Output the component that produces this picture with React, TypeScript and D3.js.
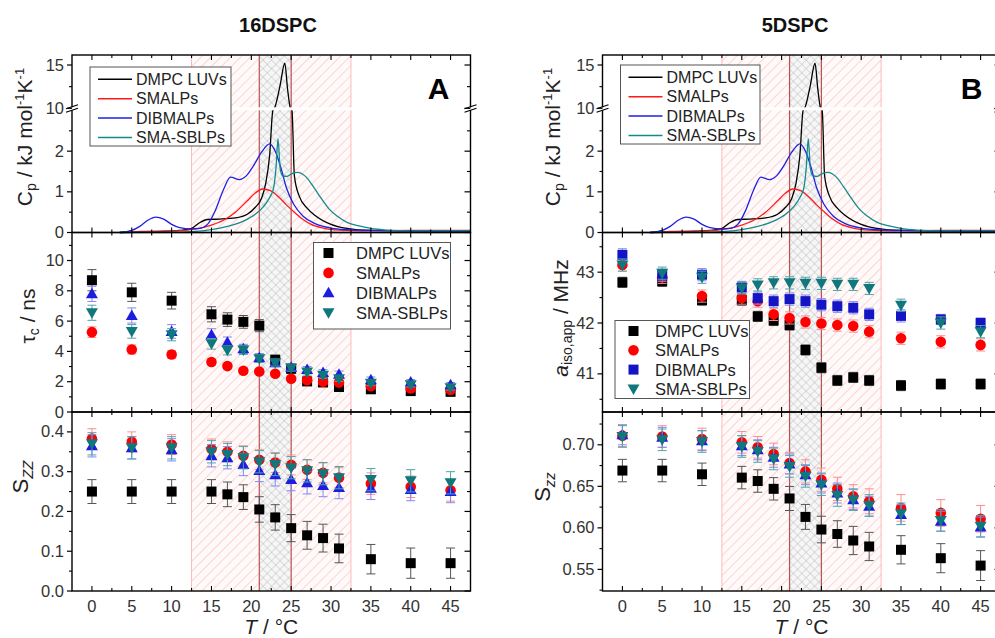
import React from "react";
import * as d3 from "d3";

const FONT = "'Liberation Sans', Arial, sans-serif";

const temps = [0, 5, 10, 15, 17, 19, 21, 23, 25, 27, 29, 31, 35, 40, 45];
const seriesNames = ["DMPC LUVs", "SMALPs", "DIBMALPs", "SMA-SBLPs"];
const colors = ["#000000", "#ff0000", "#1d1de0", "#10777c"];
const errColors = ["#555555", "#ff8c8c", "#8585f5", "#4fa6a8"];
const lineColors = ["#000000", "#ff1a1a", "#1f1fe6", "#128a8c"];

// DSC traces, [T, Cp]
const dscDMPC: [number, number][] = [
  [3.5, 0], [8, 0.02], [11, 0.05], [12.5, 0.1], [13.5, 0.24], [14.5, 0.32], [16, 0.33], [18, 0.36],
  [19.5, 0.45], [20.5, 0.62], [21.3, 0.85], [21.8, 1.2], [22.3, 1.9], [22.7, 3.0], [22.9, 10],
  [23.6, 12.6], [24.2, 15.2], [24.55, 12.2], [24.9, 10], [25.1, 3.0], [25.4, 1.4], [26, 0.9],
  [27, 0.6], [28, 0.42], [30, 0.2], [32, 0.1], [35, 0.05], [40, 0.04], [47.5, 0.03],
];
const dscSMALP: [number, number][] = [
  [3.5, 0], [6, 0.03], [10, 0.04], [12, 0.06], [13.5, 0.1], [15, 0.18], [16.5, 0.3], [18, 0.5],
  [19.5, 0.78], [20.5, 0.97], [21.4, 1.07], [22.4, 1.03], [23.4, 0.88], [24.4, 0.68], [25.4, 0.5],
  [26.4, 0.33], [27.5, 0.2], [29, 0.11], [31, 0.06], [34, 0.04], [40, 0.05], [47.5, 0.05],
];
const dscDIBMALP: [number, number][] = [
  [3.5, 0], [5, 0.05], [6, 0.15], [7, 0.3], [8, 0.38], [9, 0.33], [10, 0.2], [11, 0.12],
  [12.5, 0.09], [13.5, 0.1], [14.5, 0.2], [15.5, 0.55], [16.5, 1.05], [17.4, 1.36], [18.5, 1.3],
  [19.3, 1.38], [20.3, 1.65], [21.3, 1.98], [22.3, 2.18], [23, 2.0], [23.7, 1.6], [24.4, 1.1],
  [25.3, 0.7], [26.5, 0.4], [28, 0.22], [30, 0.11], [32, 0.07], [35, 0.05], [40, 0.04], [47.5, 0.04],
];
const dscSBLP: [number, number][] = [
  [3.5, 0], [10, 0.01], [13, 0.03], [15, 0.07], [17, 0.15], [19, 0.28], [20.5, 0.45], [21.5, 0.63],
  [22.3, 0.86], [22.8, 1.1], [23.1, 1.6], [23.35, 2.3], [23.6, 1.6], [23.9, 1.4], [24.5, 1.38],
  [25.1, 1.45], [25.8, 1.48], [26.8, 1.38], [27.8, 1.12], [28.8, 0.83], [29.8, 0.57], [30.8, 0.4],
  [32, 0.25], [33.5, 0.16], [35, 0.1], [37, 0.06], [40, 0.04], [47.5, 0.04],
];
const dscSeries = [dscDMPC, dscSMALP, dscDIBMALP, dscSBLP];

// 16DSPC: rotational correlation time / ns
const tauDMPC = [8.7, 7.9, 7.35, 6.45, 6.1, 5.95, 5.7, 3.45, 2.85, 2.02, 1.95, 1.65, 1.5, 1.38, 1.33];
const tauSMALP = [5.27, 4.13, 3.8, 3.3, 3.03, 2.72, 2.67, 2.53, 2.2, 2.1, 2.0, 1.95, 1.7, 1.55, 1.45];
const tauDIBMALP = [7.8, 6.37, 5.32, 5.1, 4.6, 4.17, 3.58, 3.25, 2.96, 2.8, 2.6, 2.5, 2.13, 1.98, 1.8];
const tauSBLP = [6.55, 5.32, 5.1, 4.5, 4.07, 4.1, 3.52, 3.25, 2.9, 2.64, 2.42, 2.2, 1.9, 1.8, 1.6];
const tauErr = [
  [0.7, 0.6, 0.55, 0.5, 0.45, 0.42, 0.4, 0.3, 0.25, 0.2, 0.2, 0.18, 0.15, 0.15, 0.15],
  [0.35, 0.3, 0.25, 0.2, 0.18, 0.17, 0.15, 0.15, 0.15, 0.15, 0.15, 0.13, 0.12, 0.12, 0.12],
  [0.5, 0.5, 0.45, 0.4, 0.35, 0.3, 0.28, 0.25, 0.23, 0.2, 0.2, 0.2, 0.18, 0.16, 0.15],
  [0.5, 0.45, 0.4, 0.35, 0.3, 0.3, 0.25, 0.22, 0.2, 0.2, 0.2, 0.18, 0.16, 0.15, 0.15],
];

// 16DSPC: order parameter
const szzA_DMPC = [0.25, 0.25, 0.25, 0.25, 0.243, 0.236, 0.205, 0.185, 0.158, 0.14, 0.133, 0.107, 0.08, 0.07, 0.07];
const szzA_SMALP = [0.383, 0.375, 0.368, 0.357, 0.35, 0.34, 0.33, 0.323, 0.317, 0.305, 0.297, 0.285, 0.27, 0.262, 0.253];
const szzA_DIBMALP = [0.365, 0.36, 0.355, 0.34, 0.335, 0.318, 0.303, 0.292, 0.28, 0.272, 0.265, 0.26, 0.258, 0.255, 0.25];
const szzA_SBLP = [0.37, 0.36, 0.36, 0.35, 0.343, 0.335, 0.325, 0.318, 0.31, 0.302, 0.295, 0.285, 0.28, 0.277, 0.272];
const szzAErr = [
  [0.03, 0.03, 0.03, 0.03, 0.031, 0.031, 0.032, 0.032, 0.034, 0.035, 0.035, 0.036, 0.037, 0.038, 0.038],
  [0.025, 0.025, 0.025, 0.025, 0.025, 0.025, 0.025, 0.025, 0.025, 0.025, 0.025, 0.025, 0.027, 0.027, 0.027],
  [0.028, 0.028, 0.028, 0.028, 0.028, 0.028, 0.028, 0.028, 0.028, 0.028, 0.028, 0.028, 0.028, 0.028, 0.028],
  [0.028, 0.028, 0.028, 0.028, 0.028, 0.028, 0.028, 0.028, 0.028, 0.028, 0.028, 0.028, 0.028, 0.028, 0.028],
];

// 5DSPC: apparent isotropic hyperfine coupling / MHz
const aisoDMPC = [42.8, 42.82, 42.45, 42.45, 42.13, 42.05, 41.96, 41.47, 41.12, 40.87, 40.93, 40.87, 40.77, 40.8, 40.8];
const aisoSMALP = [43.14, 42.9, 42.53, 42.49, 42.43, 42.17, 42.1, 42.02, 41.99, 41.96, 41.94, 41.83, 41.7, 41.63, 41.57];
const aisoDIBMALP = [43.34, 42.94, 42.95, 42.7, 42.49, 42.43, 42.47, 42.43, 42.36, 42.33, 42.3, 42.17, 42.14, 42.07, 42.0];
const aisoSBLP = [43.14, 42.98, 42.9, 42.69, 42.75, 42.79, 42.79, 42.78, 42.78, 42.76, 42.76, 42.68, 42.35, 42.0, 41.83];
const aisoErr = [
  [0.1, 0.1, 0.1, 0.1, 0.1, 0.1, 0.1, 0.1, 0.1, 0.1, 0.1, 0.1, 0.1, 0.1, 0.1],
  [0.12, 0.12, 0.12, 0.12, 0.12, 0.12, 0.12, 0.12, 0.12, 0.12, 0.12, 0.12, 0.12, 0.12, 0.12],
  [0.12, 0.12, 0.12, 0.12, 0.12, 0.12, 0.12, 0.12, 0.12, 0.12, 0.12, 0.12, 0.12, 0.1, 0.1],
  [0.12, 0.12, 0.12, 0.12, 0.12, 0.12, 0.12, 0.12, 0.12, 0.12, 0.12, 0.12, 0.12, 0.12, 0.12],
];

// 5DSPC: order parameter
const szzB_DMPC = [0.669, 0.669, 0.6645, 0.6605, 0.6564, 0.647, 0.6354, 0.6132, 0.598, 0.5926, 0.5848, 0.5776, 0.5736, 0.5635, 0.5546];
const szzB_SMALP = [0.711, 0.71, 0.707, 0.703, 0.697, 0.689, 0.678, 0.668, 0.658, 0.647, 0.638, 0.632, 0.624, 0.618, 0.611];
const szzB_DIBMALP = [0.712, 0.709, 0.705, 0.699, 0.694, 0.685, 0.677, 0.664, 0.654, 0.642, 0.634, 0.626, 0.616, 0.608, 0.601];
const szzB_SBLP = [0.71, 0.706, 0.704, 0.698, 0.692, 0.683, 0.674, 0.662, 0.652, 0.639, 0.634, 0.627, 0.617, 0.609, 0.602];
const szzBErr = [
  [0.0135, 0.0135, 0.0135, 0.0135, 0.0135, 0.0135, 0.0145, 0.015, 0.016, 0.016, 0.017, 0.017, 0.017, 0.0175, 0.018],
  [0.013, 0.013, 0.013, 0.013, 0.013, 0.013, 0.013, 0.014, 0.014, 0.014, 0.014, 0.015, 0.016, 0.016, 0.016],
  [0.012, 0.012, 0.012, 0.012, 0.012, 0.012, 0.012, 0.012, 0.012, 0.012, 0.012, 0.012, 0.012, 0.012, 0.012],
  [0.013, 0.013, 0.013, 0.013, 0.013, 0.013, 0.013, 0.013, 0.013, 0.013, 0.013, 0.013, 0.013, 0.013, 0.013],
];

const xTicks = d3.range(0, 45.01, 2.5);
const xTickLabels = [0, 5, 10, 15, 20, 25, 30, 35, 40, 45];

// panel frame rows
const TOP = [55, 232.5];
const MID = [232.5, 412];
const BOT = [412, 591];

type MarkerType = "square" | "circle" | "up" | "down";

const Marker = ({ type, x, y, fill }: { type: MarkerType; x: number; y: number; fill: string }) => {
  if (type === "square") return <rect x={x - 5} y={y - 5} width={10} height={10} fill={fill} />;
  if (type === "circle") return <circle cx={x} cy={y} r={5.3} fill={fill} />;
  if (type === "up") return <path d={`M${x},${y - 6}L${x + 6},${y + 4.5}L${x - 6},${y + 4.5}Z`} fill={fill} />;
  return <path d={`M${x},${y + 6}L${x + 6},${y - 4.5}L${x - 6},${y - 4.5}Z`} fill={fill} />;
};

const Scatter = ({ x, y, values, errs, markers, fills }: any) => (
  <g>
    {values.map((vals: number[], si: number) => (
      <g key={si}>
        {vals.map((v, i) => {
          const cx = x(temps[i]);
          const e = errs[si][i];
          return (
            <g key={i} stroke={errColors[si]} strokeWidth={1}>
              <line x1={cx} x2={cx} y1={y(v - e)} y2={y(v + e)} />
              <line x1={cx - 4.5} x2={cx + 4.5} y1={y(v - e)} y2={y(v - e)} />
              <line x1={cx - 4.5} x2={cx + 4.5} y1={y(v + e)} y2={y(v + e)} />
            </g>
          );
        })}
        {vals.map((v, i) => (
          <Marker key={i} type={markers[si]} x={x(temps[i])} y={y(v)} fill={fills[si]} />
        ))}
      </g>
    ))}
  </g>
);

const YAxis = ({ x0, x1, y, majors, minors, fmt }: any) => (
  <g>
    {majors.map((v: number) => (
      <g key={"M" + v}>
        <line x1={x0 - 5} x2={x0} y1={y(v)} y2={y(v)} stroke="#000" strokeWidth={1.2} />
        <line x1={x1 - 6} x2={x1} y1={y(v)} y2={y(v)} stroke="#000" strokeWidth={1.2} />
        <text x={x0 - 8} y={y(v) + 5.5} textAnchor="end" fontSize={16.5} fill="#333" fontFamily={FONT}>
          {fmt(v)}
        </text>
      </g>
    ))}
    {minors.map((v: number) => (
      <g key={"m" + v}>
        <line x1={x0 - 3} x2={x0} y1={y(v)} y2={y(v)} stroke="#000" strokeWidth={1.1} />
        <line x1={x1 - 3.5} x2={x1} y1={y(v)} y2={y(v)} stroke="#000" strokeWidth={1.1} />
      </g>
    ))}
  </g>
);

const XTicks = ({ x, rows }: any) => (
  <g stroke="#000" strokeWidth={1.1}>
    {rows.map(([y0, y1]: number[], r: number) =>
      xTicks.map((t) => {
        const len = t % 5 === 0 ? 5 : 3;
        return (
          <g key={r + "-" + t}>
            <line x1={x(t)} x2={x(t)} y1={y1} y2={y1 - len} />
            <line x1={x(t)} x2={x(t)} y1={y0} y2={y0 + len} />
          </g>
        );
      })
    )}
  </g>
);

const Column = ({ cfg }: any) => {
  const { id, x0, x1, title, panelLabel, mid, bot, topLegend, midLegend, labelX } = cfg;
  const x = d3.scaleLinear().domain([-2.5, 47.5]).range([x0, x1]);
  const lower = d3.scaleLinear().domain([0, 3]).range([232.5, 110.5]);
  const upper = d3.scaleLinear().domain([10, 15]).range([108.3, 65]);
  const yCp = (v: number) => (v <= 3 ? lower(v) : v >= 10 ? upper(v) : lower(3) + ((v - 3) / 7) * (upper(10) - lower(3)));
  const line = d3
    .line<[number, number]>()
    .x((d) => x(d[0]))
    .y((d) => yCp(d[1]))
    .curve(d3.curveMonotoneX);
  const yMid = d3.scaleLinear().domain(mid.domain).range([MID[1], MID[0]]);
  const yBot = d3.scaleLinear().domain(bot.domain).range([BOT[1], BOT[0]]);
  const clipId = "clip" + id;
  const cx = (x0 + x1) / 2;
  return (
    <g>
      <defs>
        <clipPath id={clipId}>
          <rect x={x0} y={TOP[0]} width={x1 - x0} height={BOT[1] - TOP[0]} />
        </clipPath>
      </defs>
      {/* transition regions */}
      <g>
        <rect x={x(12.5)} y={TOP[0]} width={x(21) - x(12.5)} height={BOT[1] - TOP[0]} fill="url(#redHatch)" />
        <rect x={x(25)} y={TOP[0]} width={x(32.5) - x(25)} height={BOT[1] - TOP[0]} fill="url(#redHatch)" />
        <rect x={x(21)} y={TOP[0]} width={x(25) - x(21)} height={BOT[1] - TOP[0]} fill="url(#grayHatch)" />
        {[12.5, 32.5].map((t) => (
          <line key={t} x1={x(t)} x2={x(t)} y1={TOP[0]} y2={BOT[1]} stroke="#ffb8b8" strokeWidth={1} />
        ))}
        {[21, 25].map((t) => (
          <line key={t} x1={x(t)} x2={x(t)} y1={TOP[0]} y2={BOT[1]} stroke="#b95252" strokeWidth={1.2} />
        ))}
      </g>
      {/* DSC curves */}
      <g clipPath={`url(#${clipId})`}>
        {dscSeries.map((s, i) => (
          <path key={i} d={line(s) || ""} fill="none" stroke={lineColors[i]} strokeWidth={1.3} />
        ))}
      </g>
      {/* axis break gap */}
      <rect x={x0 + 1} y={107.3} width={x1 - x0 - 2} height={3} fill="#fff" />
      {/* data */}
      <g clipPath={`url(#${clipId})`}>
        <Scatter x={x} y={yMid} values={mid.values} errs={mid.errs} markers={mid.markers} fills={mid.fills} />
        <Scatter x={x} y={yBot} values={bot.values} errs={bot.errs} markers={bot.markers} fills={bot.fills} />
      </g>
      {/* frames */}
      <g fill="none" stroke="#000" strokeWidth={1.4}>
        <rect x={x0} y={TOP[0]} width={x1 - x0} height={TOP[1] - TOP[0]} />
        <rect x={x0} y={MID[0]} width={x1 - x0} height={MID[1] - MID[0]} />
        <rect x={x0} y={BOT[0]} width={x1 - x0} height={BOT[1] - BOT[0]} />
      </g>
      <XTicks x={x} rows={[TOP, MID, BOT]} />
      {/* y axis break marks */}
      {[x0, x1].map((ax) => (
        <g key={ax}>
          <rect x={ax - 6} y={107.3} width={12} height={3} fill="#fff" />
          <line x1={ax - 6} y1={108.8} x2={ax + 6} y2={104.8} stroke="#000" strokeWidth={1.1} />
          <line x1={ax - 6} y1={112.3} x2={ax + 6} y2={108.3} stroke="#000" strokeWidth={1.1} />
        </g>
      ))}
      <YAxis x0={x0} x1={x1} y={yCp} majors={[0, 1, 2, 10, 15]} minors={[0.5, 1.5, 2.5, 12.5]} fmt={(v: number) => String(v)} />
      <YAxis x0={x0} x1={x1} y={yMid} majors={mid.majors} minors={mid.minors} fmt={mid.fmt} />
      <YAxis x0={x0} x1={x1} y={yBot} majors={bot.majors} minors={bot.minors} fmt={bot.fmt} />
      {/* x tick labels */}
      {xTickLabels.map((t) => (
        <text key={t} x={x(t)} y={612} textAnchor="middle" fontSize={16.5} fill="#333" fontFamily={FONT}>
          {t}
        </text>
      ))}
      <text x={cx} y={634} textAnchor="middle" fontSize={21} fill="#222" fontFamily={FONT}>
        <tspan fontStyle="italic">T</tspan> / °C
      </text>
      {/* titles */}
      <text x={title.x} y={32} textAnchor="middle" fontSize={20} fontWeight="bold" fill="#111" fontFamily={FONT}>
        {title.text}
      </text>
      <text x={panelLabel.x} y={99} textAnchor="middle" fontSize={30} fontWeight="bold" fill="#000" fontFamily={FONT}>
        {panelLabel.text}
      </text>
      {/* y labels */}
      <text transform={`translate(${labelX.top},137) rotate(-90)`} textAnchor="middle" fontSize={21} fill="#222" fontFamily={FONT}>
        C<tspan fontSize={14} dy={4}>p</tspan>
        <tspan dy={-4}> / kJ mol</tspan>
        <tspan fontSize={13} dy={-8}>-1</tspan>
        <tspan dy={8}>K</tspan>
        <tspan fontSize={13} dy={-8}>-1</tspan>
      </text>
      <text transform={`translate(${labelX.mid},${mid.labelY}) rotate(-90)`} textAnchor="middle" fontSize={21} fill="#222" fontFamily={FONT}>
        {mid.label}
      </text>
      <text transform={`translate(${labelX.bot},${bot.labelY}) rotate(-90)`} textAnchor="middle" fontSize={22} fill="#222" fontFamily={FONT}>
        S<tspan fontSize={15} dy={5} fontStyle="italic">{bot.sub}</tspan>
      </text>
      {/* top legend */}
      <g>
        <rect x={topLegend.x} y={topLegend.y} width={topLegend.w} height={79} fill="#fff" stroke="#555" strokeWidth={1} />
        {seriesNames.map((n, i) => (
          <g key={n}>
            <line x1={topLegend.x + 8} x2={topLegend.x + 42} y1={topLegend.y + 12.3 + i * 19.4} y2={topLegend.y + 12.3 + i * 19.4} stroke={lineColors[i]} strokeWidth={1.5} />
            <text x={topLegend.x + 46} y={topLegend.y + 18 + i * 19.4} fontSize={16} fill="#222" fontFamily={FONT}>
              {n}
            </text>
          </g>
        ))}
      </g>
      {/* middle legend */}
      <g>
        <rect x={midLegend.x} y={midLegend.y} width={midLegend.w} height={midLegend.h} fill="#fff" stroke="#555" strokeWidth={1} />
        {seriesNames.map((n, i) => (
          <g key={n}>
            <Marker type={mid.markers[i]} x={midLegend.x + midLegend.mx} y={midLegend.y + 10.5 + i * midLegend.dy} fill={mid.fills[i]} />
            <text x={midLegend.x + midLegend.tx} y={midLegend.y + 16.5 + i * midLegend.dy} fontSize={16.5} fill="#222" fontFamily={FONT}>
              {n}
            </text>
          </g>
        ))}
      </g>
    </g>
  );
};

const colA = {
  id: "A",
  x0: 72,
  x1: 470.5,
  title: { text: "16DSPC", x: 278 },
  panelLabel: { text: "A", x: 438.5 },
  labelX: { top: 32, mid: 35, bot: 28 },
  topLegend: { x: 90, y: 67, w: 141 },
  midLegend: { x: 313.5, y: 242.5, w: 137, h: 86.5, mx: 15, tx: 42.5, dy: 19.9 },
  mid: {
    domain: [0, 11.85],
    values: [tauDMPC, tauSMALP, tauDIBMALP, tauSBLP],
    errs: tauErr,
    markers: ["square", "circle", "up", "down"],
    fills: ["#000", "#ff0000", "#1d1de0", "#10777c"],
    majors: [0, 2, 4, 6, 8, 10],
    minors: [1, 3, 5, 7, 9, 11],
    fmt: (v: number) => String(v),
    labelY: 316,
    label: (
      <>
        τ<tspan fontSize={14} dy={4}>c</tspan>
        <tspan dy={-4}> / ns</tspan>
      </>
    ),
  },
  bot: {
    domain: [0, 0.45],
    values: [szzA_DMPC, szzA_SMALP, szzA_DIBMALP, szzA_SBLP],
    errs: szzAErr,
    markers: ["square", "circle", "up", "down"],
    fills: ["#000", "#ff0000", "#1d1de0", "#10777c"],
    majors: [0, 0.1, 0.2, 0.3, 0.4],
    minors: [0.05, 0.15, 0.25, 0.35],
    fmt: d3.format(".1f"),
    labelY: 477,
    sub: "ZZ",
  },
};

const colB = {
  id: "B",
  x0: 602.5,
  x1: 1000.5,
  title: { text: "5DSPC", x: 795 },
  panelLabel: { text: "B", x: 971.5 },
  labelX: { top: 560, mid: 568, bot: 550 },
  topLegend: { x: 620.5, y: 65, w: 139.5 },
  midLegend: { x: 615, y: 320.5, w: 134.5, h: 78, mx: 18.5, tx: 40, dy: 19.3 },
  mid: {
    domain: [40.25, 43.78],
    values: [aisoDMPC, aisoSMALP, aisoDIBMALP, aisoSBLP],
    errs: aisoErr,
    markers: ["square", "circle", "square", "down"],
    fills: ["#000", "#ff0000", "#1414c4", "#10777c"],
    majors: [41, 42, 43],
    minors: [40.5, 41.5, 42.5, 43.5],
    fmt: (v: number) => String(v),
    labelY: 318,
    label: (
      <>
        <tspan fontStyle="italic">a</tspan>
        <tspan fontSize={14} dy={4}>iso,app</tspan>
        <tspan dy={-4}> / MHz</tspan>
      </>
    ),
  },
  bot: {
    domain: [0.524, 0.7395],
    values: [szzB_DMPC, szzB_SMALP, szzB_DIBMALP, szzB_SBLP],
    errs: szzBErr,
    markers: ["square", "circle", "up", "down"],
    fills: ["#000", "#ff0000", "#1d1de0", "#10777c"],
    majors: [0.55, 0.6, 0.65, 0.7],
    minors: [0.525, 0.575, 0.625, 0.675, 0.725],
    fmt: d3.format(".2f"),
    labelY: 487,
    sub: "zz",
  },
};

export default function App() {
  return (
    <div style={{ position: "absolute", left: 0, top: 0 }}>
      <svg width={995} height={638} style={{ display: "block", background: "#fff" }}>
        <defs>
          <pattern id="redHatch" width={7} height={7} patternUnits="userSpaceOnUse" patternTransform="rotate(45)">
            <rect width={7} height={7} fill="#fffafa" />
            <line x1={0} y1={0} x2={0} y2={7} stroke="#ffb3b3" strokeWidth={1.1} />
          </pattern>
          <pattern id="grayHatch" width={6} height={6} patternUnits="userSpaceOnUse" patternTransform="rotate(45)">
            <rect width={6} height={6} fill="#f6f6f6" />
            <line x1={0} y1={0} x2={0} y2={6} stroke="#b0b0b0" strokeWidth={0.8} />
            <line x1={0} y1={0} x2={6} y2={0} stroke="#b0b0b0" strokeWidth={0.8} />
          </pattern>
        </defs>
        <Column cfg={colA} />
        <Column cfg={colB} />
      </svg>
    </div>
  );
}
